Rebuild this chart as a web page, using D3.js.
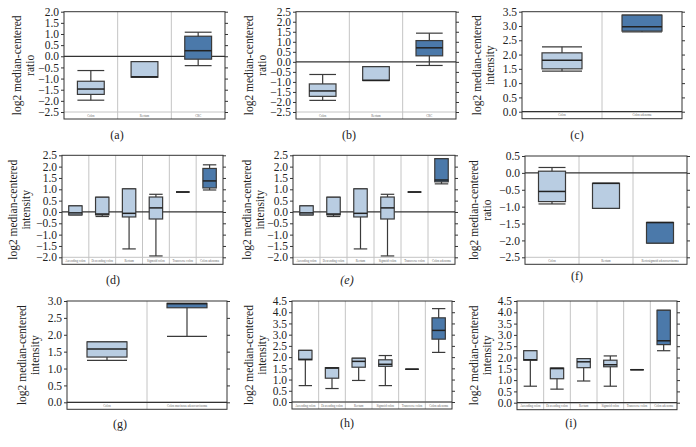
<!DOCTYPE html>
<html><head><meta charset="utf-8">
<script src="https://cdn.jsdelivr.net/npm/d3@7"></script>
<style>body{margin:0;background:#fff}svg{display:block}</style>
</head><body>
<script>
// ---------- data ----------
const catsA = ["Colon", "Rectum", "CRC"];
const boxesA = [[-1.97,-1.71,-1.47,-1.12,-0.64],[-0.94,-0.94,-0.92,-0.24,-0.24],[-0.42,-0.13,0.25,0.90,1.08]];
const ticksA = [-2.5,-2.0,-1.5,-1.0,-0.5,0.0,0.5,1.0,1.5,2.0];

const catsB = ["Colon", "Rectum", "CRC"];
const boxesB = [[-1.92,-1.72,-1.45,-1.10,-0.63],[-0.93,-0.93,-0.92,-0.24,-0.24],[-0.18,0.30,0.70,1.06,1.43]];
const ticksB = [-2.5,-2.0,-1.5,-1.0,-0.5,0.0,0.5,1.0,1.5,2.0,2.5];

const catsC = ["Colon", "Colon adenoma"];
const boxesC = [[1.42,1.50,1.80,2.06,2.27],[2.79,2.82,2.97,3.38,3.38]];
const ticksC = [0.0,0.5,1.0,1.5,2.0,2.5,3.0,3.5];

const catsD = ["Ascending colon","Descending colon","Rectum","Sigmoid colon","Transverse colon","Colon adenoma"];
const boxesD = [[-0.13,-0.13,-0.04,0.27,0.27],[-0.20,-0.13,-0.09,0.65,0.65],[-1.63,-0.22,-0.06,1.02,1.02],[-1.94,-0.31,0.18,0.66,0.78],[0.88,0.88,0.88,0.88,0.88],[0.97,1.06,1.37,1.92,2.08]];
const ticksD = [-2.0,-1.5,-1.0,-0.5,0.0,0.5,1.0,1.5,2.0,2.5];

const catsE = ["Ascending colon","Descending colon","Rectum","Sigmoid colon","Transverse colon","Colon adenoma"];
const boxesE = [[-0.13,-0.13,-0.04,0.27,0.27],[-0.20,-0.13,-0.09,0.65,0.65],[-1.63,-0.22,-0.06,1.02,1.02],[-1.94,-0.31,0.18,0.66,0.78],[0.88,0.88,0.88,0.88,0.88],[1.24,1.33,1.41,2.35,2.35]];
const ticksE = [-2.0,-1.5,-1.0,-0.5,0.0,0.5,1.0,1.5,2.0,2.5];

const catsF = ["Colon","Rectum","Rectosigmoid adenocarcinoma"];
const boxesF = [[-0.92,-0.85,-0.55,0.05,0.16],[-1.05,-1.05,-0.31,-0.31,-0.31],[-2.08,-2.08,-1.47,-1.47,-1.47]];
const ticksF = [-2.5,-2.0,-1.5,-1.0,-0.5,0.0,0.5];

const catsG = ["Colon","Colon mucinous adenocarcinoma"];
const boxesG = [[1.24,1.34,1.58,1.79,1.79],[1.95,2.80,2.92,2.93,2.93]];
const ticksG = [0.0,0.5,1.0,1.5,2.0,2.5,3.0];

const catsH = ["Ascending colon","Descending colon","Rectum","Sigmoid colon","Transverse colon","Colon adenoma"];
const boxesH = [[0.73,1.88,1.90,2.30,2.30],[0.60,1.06,1.51,1.53,1.53],[0.96,1.55,1.81,1.95,1.95],[0.73,1.59,1.68,1.88,2.07],[1.46,1.46,1.46,1.46,1.46],[2.21,2.80,3.19,3.75,4.16]];
const ticksH = [0.0,0.5,1.0,1.5,2.0,2.5,3.0,3.5,4.0,4.5];

const catsI = ["Ascending colon","Descending colon","Rectum","Sigmoid colon","Transverse colon","Colon adenoma"];
const boxesI = [[0.73,1.88,1.90,2.30,2.30],[0.60,1.06,1.51,1.53,1.53],[0.96,1.55,1.81,1.95,1.95],[0.73,1.59,1.68,1.88,2.07],[1.46,1.46,1.46,1.46,1.46],[2.30,2.57,2.74,4.09,4.09]];
const ticksI = [0.0,0.5,1.0,1.5,2.0,2.5,3.0,3.5,4.0,4.5];

const titleLines = ["log2 median-centered"];
const panelLabels = ["(a)","(b)","(c)","(d)","(e)","(f)","(g)","(h)","(i)"];
const units = ["ratio","ratio","intensity","intensity","intensity","ratio","intensity","intensity","intensity"];

// ---------- layout (positions only) ----------
const layout = [
  {cats:catsA, boxes:boxesA, ticks:ticksA, L:64,  R:225, T:11.7, B:112,   tx:17,  lx:117, ly:139, italic:false},
  {cats:catsB, boxes:boxesB, ticks:ticksB, L:296, R:456, T:11.7, B:112,   tx:249, lx:349, ly:139, italic:false},
  {cats:catsC, boxes:boxesC, ticks:ticksC, L:522, R:682, T:11.7, B:111.7, tx:477, lx:577, ly:139, italic:false},
  {cats:catsD, boxes:boxesD, ticks:ticksD, L:62,  R:223, T:155.3,B:257.3, tx:13,  lx:113, ly:284, italic:false},
  {cats:catsE, boxes:boxesE, ticks:ticksE, L:293, R:455, T:155.3,B:257.3, tx:247, lx:347, ly:284, italic:true},
  {cats:catsF, boxes:boxesF, ticks:ticksF, L:525, R:687, T:156,  B:257.3, tx:474, lx:577, ly:280, italic:false},
  {cats:catsG, boxes:boxesG, ticks:ticksG, L:67,  R:227, T:301,  B:402.3, tx:22,  lx:120, ly:428, italic:false},
  {cats:catsH, boxes:boxesH, ticks:ticksH, L:292, R:452, T:301,  B:402,   tx:249, lx:347, ly:427, italic:false},
  {cats:catsI, boxes:boxesI, ticks:ticksI, L:517, R:677, T:301,  B:402.7, tx:474, lx:571, ly:427, italic:false}
];

const LIGHT = "#b9cde2", DARK = "#4b79aa", STROKE = "#3a3a3a", GRID = "#c4c4c4";
const FONT = "'Liberation Serif','Times New Roman',serif";

const svg = d3.select("body").append("svg").attr("width",696).attr("height",447)
  .style("font-family", FONT);

layout.forEach((p, pi) => {
  const g = svg.append("g");
  const ext = d3.extent(p.ticks);
  const y = d3.scaleLinear().domain(ext).range([p.B, p.T]);
  const x = d3.scaleBand().domain(p.cats).range([p.L, p.R]);
  const FB = p.B + 7;
  const bw = x.bandwidth() / 2;

  // category separators
  g.selectAll(".sep").data(p.cats.slice(1)).join("line")
    .attr("x1", d => x(d)).attr("x2", d => x(d))
    .attr("y1", p.T).attr("y2", FB)
    .attr("stroke", GRID).attr("stroke-width", 1);

  // label strip line
  g.append("line").attr("x1", p.L).attr("x2", p.R).attr("y1", y(ext[0])).attr("y2", y(ext[0]))
    .attr("stroke", GRID).attr("stroke-width", 1);

  // zero line
  if (ext[0] <= 0 && ext[1] >= 0) {
    g.append("line").attr("x1", p.L).attr("x2", p.R).attr("y1", y(0)).attr("y2", y(0))
      .attr("stroke", "#333").attr("stroke-width", 1.2);
  }

  // category labels (tiny)
  g.selectAll(".cl").data(p.cats).join("text")
    .attr("x", d => x(d) + x.bandwidth()/2).attr("y", p.B + 4.6)
    .attr("text-anchor", "middle").attr("font-size", 3).attr("fill", "#666")
    .text(d => d);

  // boxes
  const bg = g.selectAll(".box").data(p.boxes).join("g");
  bg.each(function(d, i) {
    const s = d3.select(this);
    const cx = x(p.cats[i]) + x.bandwidth()/2;
    const x0 = cx - bw/2;
    const dark = i === p.boxes.length - 1;
    s.append("line").attr("x1", cx).attr("x2", cx).attr("y1", y(d[0])).attr("y2", y(d[4]))
      .attr("stroke", STROKE).attr("stroke-width", 1.2);
    [d[0], d[4]].forEach(v => {
      s.append("line").attr("x1", x0).attr("x2", x0 + bw).attr("y1", y(v)).attr("y2", y(v))
        .attr("stroke", STROKE).attr("stroke-width", 1.2);
    });
    s.append("rect").attr("x", x0).attr("width", bw)
      .attr("y", y(d[3])).attr("height", Math.max(0, y(d[1]) - y(d[3])))
      .attr("fill", dark ? DARK : LIGHT).attr("stroke", STROKE).attr("stroke-width", 1.2);
    s.append("line").attr("x1", x0).attr("x2", x0 + bw).attr("y1", y(d[2])).attr("y2", y(d[2]))
      .attr("stroke", "#222").attr("stroke-width", 1.5);
  });

  // frame
  g.append("rect").attr("x", p.L).attr("y", p.T).attr("width", p.R - p.L).attr("height", FB - p.T)
    .attr("fill", "none").attr("stroke", "#333").attr("stroke-width", 1);

  // axes
  const ax = g.append("g").attr("transform", `translate(${p.L},0)`)
    .call(d3.axisLeft(y).tickValues(p.ticks).tickSize(3).tickPadding(2).tickFormat(d3.format(".1f")));
  ax.select(".domain").remove();
  ax.selectAll("text").attr("font-size", 11.5).attr("font-family", FONT).attr("fill", "#222");
  ax.selectAll("line").attr("stroke", "#333");
  const axr = g.append("g").attr("transform", `translate(${p.R},0)`)
    .call(d3.axisRight(y).tickValues(p.ticks).tickSize(3).tickFormat(""));
  axr.select(".domain").remove();
  axr.selectAll("line").attr("stroke", "#333");

  // y title
  const cy = (p.T + FB) / 2;
  const t = g.append("text").attr("transform", `translate(${p.tx},${cy}) rotate(-90)`)
    .attr("text-anchor", "middle").attr("font-size", 11.5).attr("fill", "#222");
  t.append("tspan").attr("x", 0).attr("dy", "0.35em").text(titleLines[0]);
  t.append("tspan").attr("x", 0).attr("dy", 12.5).text(units[pi]);

  // panel label
  g.append("text").attr("x", p.lx).attr("y", p.ly).attr("text-anchor", "middle")
    .attr("font-size", 12).attr("fill", "#222")
    .attr("font-style", p.italic ? "italic" : "normal")
    .text(panelLabels[pi]);
});
</script>
</body></html>
